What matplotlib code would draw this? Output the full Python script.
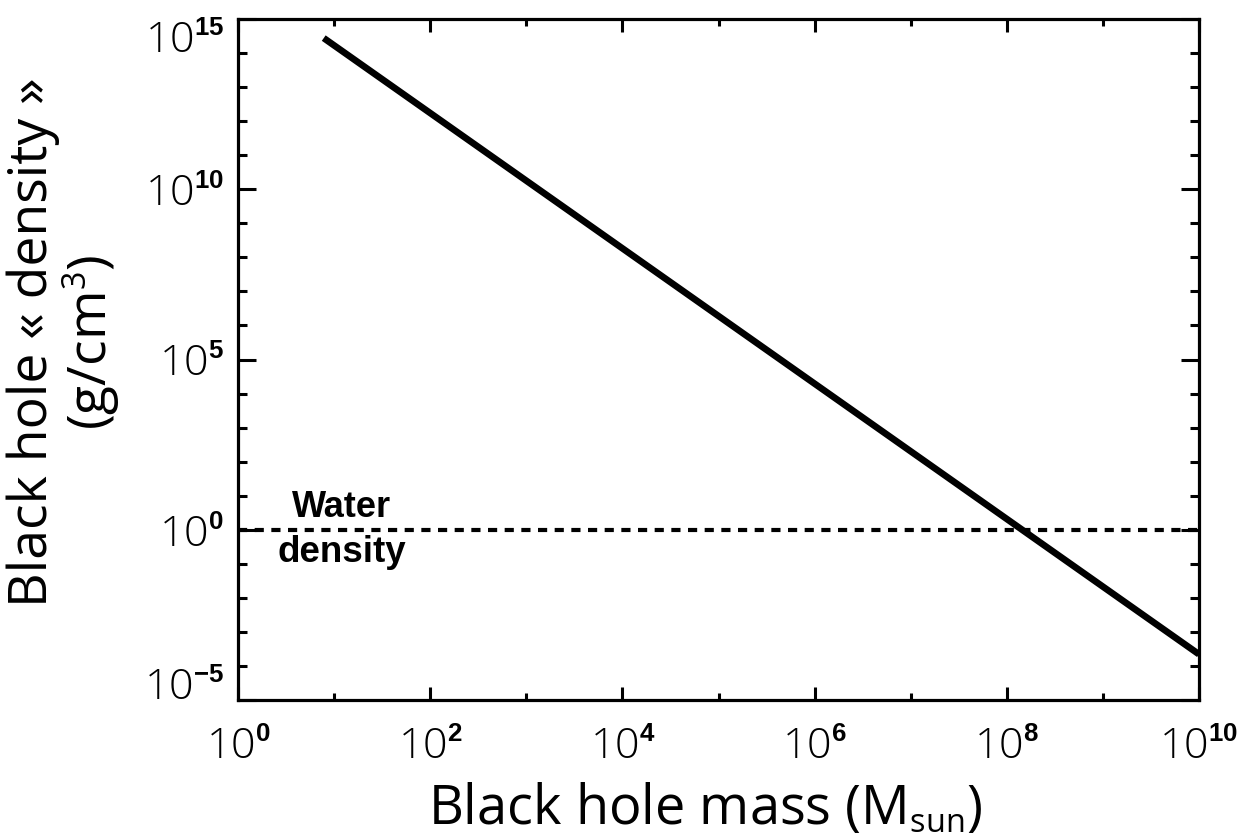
import matplotlib
matplotlib.use("Agg")
import matplotlib.pyplot as plt
import matplotlib._mathtext as mt
from matplotlib.ticker import FixedLocator, NullFormatter
from matplotlib.transforms import ScaledTranslation

# valeurs
masse = [7.8, 1e10]               # M_sun
densite = [2.75e14, 2.2e-4]       # g/cm3
eau_masse = [1.0, 1e10]
eau_densite = [1.0, 1.0]

x_majeurs = [1e0, 1e2, 1e4, 1e6, 1e8, 1e10]
x_labels = ["0", "2", "4", "6", "8", "10"]
x_mineurs = [10.0 ** k for k in range(0, 11)]
y_majeurs = [1e-5, 1e0, 1e5, 1e10, 1e15]
y_labels = ["-5", "0", "5", "10", "15"]
y_mineurs = [10.0 ** k for k in range(-5, 16)]

plt.rcParams['font.family'] = 'Open Sans'
plt.rcParams['font.weight'] = 'light'
plt.rcParams['mathtext.fontset'] = 'custom'
plt.rcParams['mathtext.rm'] = 'Open Sans:light'
plt.rcParams['mathtext.bf'] = 'Liberation Sans:bold'
# exposants plus petits, comme sur l'original
mt.SHRINK_FACTOR = 0.6


def etiquette(e):
    e = e.replace("-", "{-}")
    return r"$\mathregular{10}^{\mathbf{" + e + "}}$"


fig = plt.figure(figsize=(12.47, 8.4), dpi=100)
ax = fig.add_axes([238 / 1247, 1 - 700 / 840, 961 / 1247, 681 / 840])

ax.plot(masse, densite, color='black', lw=4.8, solid_capstyle='butt')
ax.plot(eau_masse, eau_densite, color='black', lw=3.0, dashes=(2.2, 1.8))

ax.set_xscale('log')
ax.set_yscale('log')
ax.set_xlim(1e0, 1e10)
ax.set_ylim(1e-5, 1e15)

ax.xaxis.set_major_locator(FixedLocator(x_majeurs))
ax.xaxis.set_minor_locator(FixedLocator(x_mineurs))
ax.yaxis.set_major_locator(FixedLocator(y_majeurs))
ax.yaxis.set_minor_locator(FixedLocator(y_mineurs))
ax.xaxis.set_minor_formatter(NullFormatter())
ax.yaxis.set_minor_formatter(NullFormatter())
ax.set_xticklabels([etiquette(e) for e in x_labels])
ax.set_yticklabels([etiquette(e) for e in y_labels])

for s in ax.spines.values():
    s.set_linewidth(2.3)
ax.tick_params(which='both', direction='in', top=True, right=True,
               width=2.2, labelsize=31)
ax.tick_params(axis='x', which='major', length=9.5, pad=19)
ax.tick_params(axis='x', which='minor', length=5)
ax.tick_params(axis='y', which='major', length=13, pad=10)
ax.tick_params(axis='y', which='minor', length=6.5)

# comme IDL : les étiquettes du bord sont rentrées vers l'intérieur
labs = ax.get_yticklabels()
labs[0].set_transform(labs[0].get_transform() + ScaledTranslation(0, 0.17, fig.dpi_scale_trans))
labs[-1].set_transform(labs[-1].get_transform() + ScaledTranslation(0, -0.17, fig.dpi_scale_trans))

ax.text(12, 4.4, "Water", fontsize=26, fontweight='bold',
        family='Liberation Sans', ha='center', va='center')
ax.text(12, 0.21, "density", fontsize=26.5, fontweight='bold',
        family='Liberation Sans', ha='center', va='center')

ax.set_xlabel(r"Black hole mass (M$_\mathregular{sun}$)", fontsize=39, va='baseline')
ax.xaxis.set_label_coords(0.486, -0.182)
ax.set_ylabel("Black hole « density »\n(g/cm$^\mathregular{3}$)", fontsize=38.5,
              va='center', ha='center', multialignment='center', linespacing=1.0)
ax.yaxis.set_label_coords(-0.181, 0.526)

fig.savefig("out.png", dpi=100)
